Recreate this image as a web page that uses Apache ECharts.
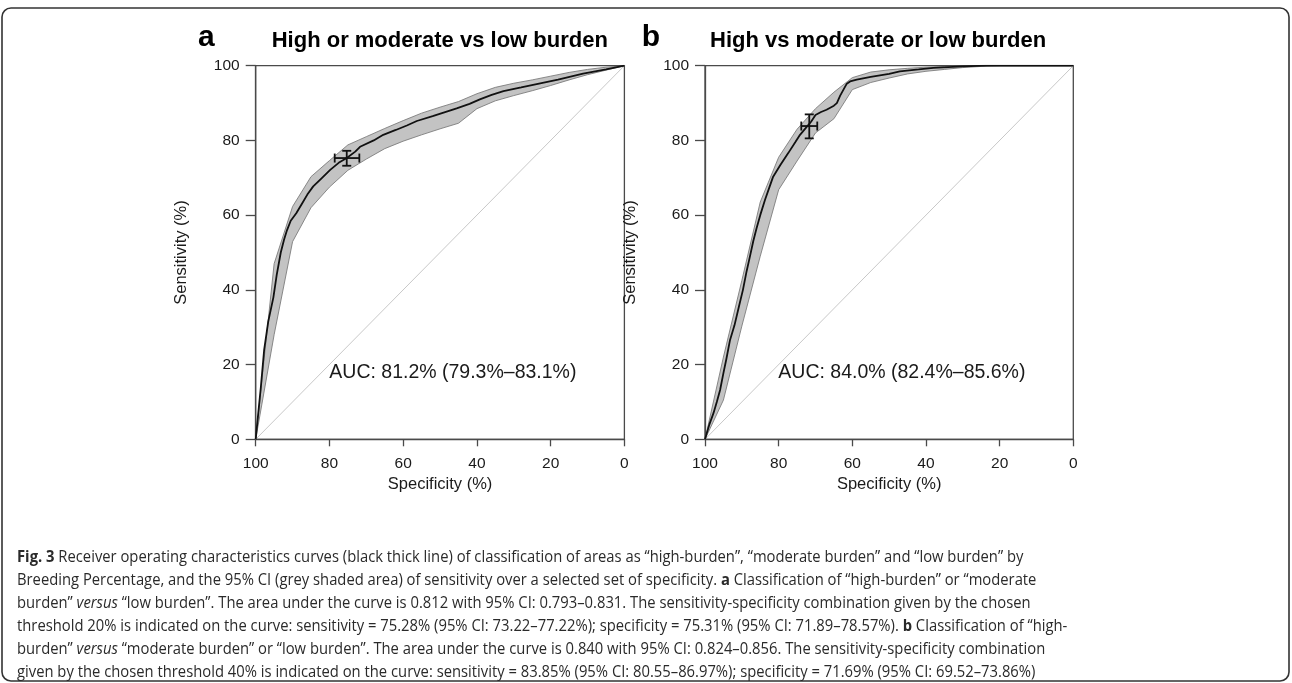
<!DOCTYPE html>
<html><head><meta charset="utf-8">
<script src="https://cdn.jsdelivr.net/npm/echarts@6/dist/echarts.min.js"></script>
<style>html,body{margin:0;padding:0;background:#fff}#chart{width:1292px;height:683px}</style>
</head><body><div id="chart"></div>
<script>
// ---------- data ----------
const axisTicks = [0, 20, 40, 60, 80, 100];
const diagSpec = [100, 0];
const diagSens = [0, 100];

// Panel a: High or moderate vs low burden
const rocA_spec = [100, 99.3, 98.6, 97.7, 96.6, 95.2, 94.3, 93.2, 92.3, 91.5, 90.5, 89, 87.5, 86, 84.4, 82, 79.8, 77.5, 75.3, 73, 71.7, 68, 65.4, 62, 59, 56.3, 52, 48, 45.5, 42, 39.2, 36, 32.8, 28, 23.8, 18, 11.2, 5, 0];
const rocA_sens = [0, 7, 14, 24, 31.5, 38, 44, 50, 53.5, 56, 58.5, 60.5, 63, 65.5, 67.7, 70, 72.1, 74, 75.3, 77, 78.3, 80, 81.5, 82.8, 84, 85.2, 86.5, 87.8, 88.6, 89.8, 91, 92.2, 93.2, 94.2, 95.1, 96.3, 97.9, 99, 100];
const bandA_spec = [100, 95, 90, 85, 80, 75, 70, 65, 60, 55, 50, 45, 40, 35, 30, 25, 20, 15, 10, 5, 0];
const bandA_high = [0, 47, 62.3, 70.3, 74.6, 78.8, 81, 83.2, 85.3, 87.3, 88.9, 90.4, 92.5, 94.2, 95.3, 96.2, 97.2, 98.2, 99, 99.6, 100];
const bandA_low  = [0, 28, 52.9, 62, 67.5, 72, 75, 77.8, 79.8, 81.5, 83.1, 84.6, 88.5, 90.6, 92, 93.3, 94.7, 96.2, 97.6, 98.8, 100];
const pointA_spec = [71.89, 75.31, 78.57]; // low, value, high
const pointA_sens = [73.22, 75.28, 77.22];
const aucA = 'AUC: 81.2% (79.3%–83.1%)';
const titleA = 'High or moderate vs low burden';

// Panel b: High vs moderate or low burden
const rocB_spec = [100, 98.8, 97.7, 96.8, 95.9, 95, 94.2, 93.2, 92, 90.8, 89.7, 88.7, 87.9, 86.9, 86, 85, 83.7, 82.5, 81.5, 79.5, 77.4, 75.5, 74.2, 72.5, 71.2, 70, 68.5, 67, 65, 64.2, 63.3, 62.4, 61.5, 60.6, 58.8, 55, 50, 47.1, 42, 38, 30, 23.5, 0];
const rocB_sens = [0, 4, 7, 10, 13.2, 17.7, 21.5, 26.6, 30.5, 35.5, 40, 45, 48.5, 53, 56.5, 60, 64.1, 67.5, 70.3, 73.5, 76.6, 79.5, 81.5, 83.5, 85, 86.8, 87.6, 88.2, 89.3, 90, 92, 93.6, 95.2, 95.8, 96.3, 97, 97.8, 98.5, 99, 99.4, 99.8, 100, 100];
const bandB_spec = [100, 95, 90, 85, 80, 75, 70, 65, 60, 55, 50, 45, 40, 35, 30, 25, 20, 15, 10, 5, 0];
const bandB_high = [0, 22, 42.5, 63.5, 75.5, 83, 88.5, 92.9, 96.8, 98.3, 98.9, 99.3, 99.6, 99.8, 99.9, 100, 100, 100, 100, 100, 100];
const bandB_low  = [0, 10.5, 30.3, 49, 66.8, 74.5, 82, 85.8, 93.6, 95.5, 96.7, 97.8, 98.5, 99, 99.5, 99.8, 100, 100, 100, 100, 100];
const pointB_spec = [69.52, 71.69, 73.86];
const pointB_sens = [80.55, 83.85, 86.97];
const aucB = 'AUC: 84.0% (82.4%–85.6%)';
const titleB = 'High vs moderate or low burden';

const xName = 'Specificity (%)';
const yName = 'Sensitivity (%)';

const captionLines = [
  '{b|Fig. 3} Receiver operating characteristics curves (black thick line) of classification of areas as “high-burden”, “moderate burden” and “low burden” by',
  'Breeding Percentage, and the 95% CI (grey shaded area) of sensitivity over a selected set of specificity. {b|a} Classification of “high-burden” or “moderate',
  'burden” {i|versus} “low burden”. The area under the curve is 0.812 with 95% CI: 0.793–0.831. The sensitivity-specificity combination given by the chosen',
  'threshold 20% is indicated on the curve: sensitivity = 75.28% (95% CI: 73.22–77.22%); specificity = 75.31% (95% CI: 71.89–78.57%). {b|b} Classification of “high-',
  'burden” {i|versus} “moderate burden” or “low burden”. The area under the curve is 0.840 with 95% CI: 0.824–0.856. The sensitivity-specificity combination',
  'given by the chosen threshold 40% is indicated on the curve: sensitivity = 83.85% (95% CI: 80.55–86.97%); specificity = 71.69% (95% CI: 69.52–73.86%)'
];

// ---------- style ----------
const FONT = '"Liberation Sans", Arial, Helvetica, sans-serif';
const CAP_FONT = '"Open Sans", "Noto Sans", sans-serif';
const AX = '#4a4a4a';
const TXT = '#1a1a1a';

const zip = (a, b) => a.map((v, i) => [v, b[i]]);

function xAxisCfg(gi) {
  return {
    type: 'value', gridIndex: gi, min: 0, max: 100, interval: 20, inverse: true,
    name: xName, nameLocation: 'middle', nameGap: 37,
    nameTextStyle: { fontFamily: FONT, fontSize: 16.5, color: TXT },
    axisLine: { show: true, onZero: false, lineStyle: { color: AX, width: 1.3 } },
    axisTick: { show: true, length: 7, lineStyle: { color: AX, width: 1.3 } },
    axisLabel: { margin: 16, fontFamily: FONT, fontSize: 15.5, color: TXT, showMinLabel: true, showMaxLabel: true },
    splitLine: { show: false }
  };
}
function yAxisCfg(gi) {
  return {
    type: 'value', gridIndex: gi, min: 0, max: 100, interval: 20,
    name: yName, nameLocation: 'middle', nameGap: 66, nameRotate: 90,
    nameTextStyle: { fontFamily: FONT, fontSize: 16.5, color: TXT },
    axisLine: { show: true, onZero: false, lineStyle: { color: AX, width: 1.3 } },
    axisTick: { show: true, length: 10, lineStyle: { color: AX, width: 1.3 } },
    axisLabel: { margin: 16, fontFamily: FONT, fontSize: 15.5, color: TXT, showMinLabel: true, showMaxLabel: true },
    splitLine: { show: false }
  };
}

function bandSeries(gi, specs, lo, hi) {
  return {
    type: 'custom', xAxisIndex: gi, yAxisIndex: gi, z: 2, silent: true, clip: true,
    data: specs.map((s, i) => [s, lo[i], hi[i]]),
    encode: { x: 0, y: [1, 2] },
    renderItem: function (params, api) {
      if (params.dataIndex !== 0) return null;
      const pts = [];
      for (let i = 0; i < specs.length; i++) pts.push(api.coord([specs[i], hi[i]]));
      for (let i = specs.length - 1; i >= 0; i--) pts.push(api.coord([specs[i], lo[i]]));
      return { type: 'polygon', shape: { points: pts }, style: { fill: '#c3c3c3', stroke: '#7d7d7d', lineWidth: 0.9 } };
    }
  };
}
function lineSeries(gi, xs, ys, color, width, z) {
  return {
    type: 'line', xAxisIndex: gi, yAxisIndex: gi, data: zip(xs, ys), z: z,
    showSymbol: false, symbol: 'none', silent: true, animation: false,
    lineStyle: { color: color, width: width }
  };
}
function errSeries(gi, ps, ss) {
  return {
    type: 'custom', xAxisIndex: gi, yAxisIndex: gi, z: 5, silent: true,
    data: [[ps[1], ss[1], ps[0], ps[2], ss[0], ss[2]]],
    renderItem: function (params, api) {
      const c = api.coord([api.value(0), api.value(1)]);
      const xl = api.coord([api.value(2), api.value(1)]);
      const xh = api.coord([api.value(3), api.value(1)]);
      const yl = api.coord([api.value(0), api.value(4)]);
      const yh = api.coord([api.value(0), api.value(5)]);
      const st = { stroke: '#111', lineWidth: 1.8 };
      const cap = 4.5;
      return {
        type: 'group', children: [
          { type: 'line', shape: { x1: xl[0], y1: c[1], x2: xh[0], y2: c[1] }, style: st },
          { type: 'line', shape: { x1: xl[0], y1: c[1] - cap, x2: xl[0], y2: c[1] + cap }, style: st },
          { type: 'line', shape: { x1: xh[0], y1: c[1] - cap, x2: xh[0], y2: c[1] + cap }, style: st },
          { type: 'line', shape: { x1: c[0], y1: yl[1], x2: c[0], y2: yh[1] }, style: st },
          { type: 'line', shape: { x1: c[0] - cap, y1: yl[1], x2: c[0] + cap, y2: yl[1] }, style: st },
          { type: 'line', shape: { x1: c[0] - cap, y1: yh[1], x2: c[0] + cap, y2: yh[1] }, style: st }
        ]
      };
    }
  };
}

// caption scale (condensed look)
const capSize = 15.5;
const mctx = document.createElement('canvas').getContext('2d');
mctx.font = capSize + 'px ' + CAP_FONT;
const plain4 = captionLines[3].replace(/\{[bi]\|([^}]*)\}/g, '$1');
const capScale = Math.min(1, 1050 / mctx.measureText(plain4).width);

const richTok = {
  b: { fontFamily: CAP_FONT, fontSize: capSize, fontWeight: 'bold', fill: '#2a2a2a', lineHeight: 23 },
  i: { fontFamily: CAP_FONT, fontSize: capSize, fontStyle: 'italic', fill: '#2a2a2a', lineHeight: 23 }
};

const chart = echarts.init(document.getElementById('chart'));
chart.setOption({
  animation: false,
  backgroundColor: '#fff',
  grid: [
    { left: 255.7, top: 65.7, width: 368.7, height: 373.6, show: true, borderColor: AX, borderWidth: 1.3, backgroundColor: 'transparent' },
    { left: 705, top: 65.7, width: 368.3, height: 373.6, show: true, borderColor: AX, borderWidth: 1.3, backgroundColor: 'transparent' }
  ],
  xAxis: [xAxisCfg(0), xAxisCfg(1)],
  yAxis: [yAxisCfg(0), yAxisCfg(1)],
  series: [
    lineSeries(0, diagSpec, diagSens, '#c8c8c8', 1, 1),
    bandSeries(0, bandA_spec, bandA_low, bandA_high),
    lineSeries(0, rocA_spec, rocA_sens, '#111', 1.8, 3),
    errSeries(0, pointA_spec, pointA_sens),
    lineSeries(1, diagSpec, diagSens, '#c8c8c8', 1, 1),
    bandSeries(1, bandB_spec, bandB_low, bandB_high),
    lineSeries(1, rocB_spec, rocB_sens, '#111', 1.8, 3),
    errSeries(1, pointB_spec, pointB_sens)
  ],
  graphic: [
    { type: 'rect', silent: true, z: 0, shape: { x: 2, y: 8, width: 1287, height: 673, r: 9 }, style: { fill: 'none', stroke: '#333', lineWidth: 1.6 } },
    { type: 'text', x: 198, y: 38, style: { text: 'a', font: 'bold 30px ' + FONT, fill: '#000', verticalAlign: 'middle' } },
    { type: 'text', x: 271.7, y: 40.6, style: { text: titleA, font: 'bold 22px ' + FONT, fill: '#000', verticalAlign: 'middle' } },
    { type: 'text', x: 641.7, y: 38, style: { text: 'b', font: 'bold 30px ' + FONT, fill: '#000', verticalAlign: 'middle' } },
    { type: 'text', x: 710, y: 40.6, style: { text: titleB, font: 'bold 22px ' + FONT, fill: '#000', verticalAlign: 'middle' } },
    { type: 'text', x: 329.3, y: 372.7, z: 10, style: { text: aucA, font: '19.5px ' + FONT, fill: TXT, verticalAlign: 'middle' } },
    { type: 'text', x: 778.3, y: 372.7, z: 10, style: { text: aucB, font: '19.5px ' + FONT, fill: TXT, verticalAlign: 'middle' } },
    { type: 'text', x: 17, y: 546.5, scaleX: capScale, originX: 0,
      style: { text: captionLines.join('\n'), fontFamily: CAP_FONT, fontSize: capSize, fill: '#2a2a2a', lineHeight: 23, verticalAlign: 'top', rich: richTok } }
  ]
});
</script>
</body></html>
